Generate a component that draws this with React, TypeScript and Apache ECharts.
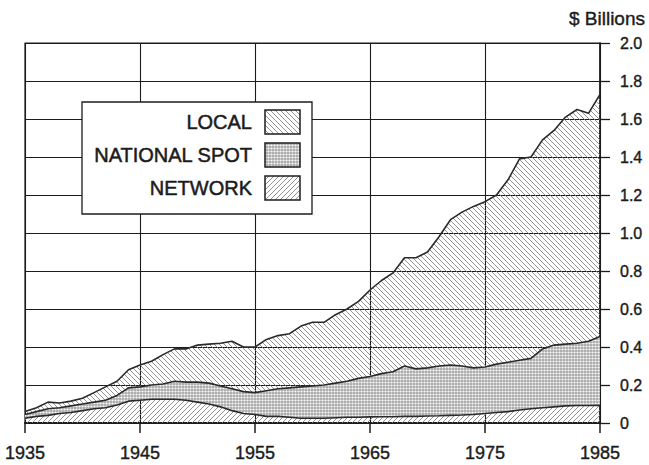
import { useEffect, useRef } from "react";
import * as echarts from "echarts";

const years = [
  1935, 1936, 1937, 1938, 1939, 1940, 1941, 1942, 1943, 1944,
  1945, 1946, 1947, 1948, 1949, 1950, 1951, 1952, 1953, 1954,
  1955, 1956, 1957, 1958, 1959, 1960, 1961, 1962, 1963, 1964,
  1965, 1966, 1967, 1968, 1969, 1970, 1971, 1972, 1973, 1974,
  1975, 1976, 1977, 1978, 1979, 1980, 1981, 1982, 1983, 1984, 1985,
];

const network = [
  0.025, 0.035, 0.04, 0.05, 0.055, 0.065, 0.075, 0.08, 0.095, 0.115,
  0.12, 0.125, 0.125, 0.125, 0.12, 0.11, 0.1, 0.085, 0.065, 0.05,
  0.045, 0.035, 0.035, 0.03, 0.025, 0.025, 0.025, 0.028, 0.03, 0.03,
  0.032, 0.033, 0.033, 0.035, 0.035, 0.037, 0.038, 0.04, 0.042, 0.045,
  0.05, 0.055, 0.06, 0.068, 0.075, 0.08, 0.085, 0.09, 0.092, 0.092, 0.093,
];

const nationalSpot = [
  0.02, 0.025, 0.035, 0.03, 0.035, 0.035, 0.035, 0.04, 0.05, 0.07,
  0.07, 0.075, 0.08, 0.095, 0.095, 0.105, 0.11, 0.11, 0.115, 0.115,
  0.115, 0.135, 0.145, 0.155, 0.165, 0.17, 0.175, 0.182, 0.19, 0.205,
  0.213, 0.227, 0.237, 0.265, 0.25, 0.253, 0.262, 0.265, 0.258, 0.245,
  0.245, 0.255, 0.26, 0.262, 0.265, 0.31, 0.325, 0.325, 0.328, 0.338, 0.362,
];

const local = [
  0.015, 0.02, 0.035, 0.025, 0.025, 0.03, 0.05, 0.07, 0.075, 0.095,
  0.115, 0.125, 0.155, 0.17, 0.175, 0.195, 0.205, 0.225, 0.25, 0.235,
  0.24, 0.27, 0.28, 0.285, 0.32, 0.335, 0.33, 0.36, 0.38, 0.405,
  0.455, 0.49, 0.52, 0.57, 0.585, 0.61, 0.68, 0.765, 0.81, 0.85,
  0.87, 0.89, 0.96, 1.06, 1.06, 1.1, 1.13, 1.195, 1.23, 1.2, 1.275,
];

const seriesNames = ["NETWORK", "NATIONAL SPOT", "LOCAL"];
const legendOrder = ["LOCAL", "NATIONAL SPOT", "NETWORK"];
const yUnit = "$ Billions";

const FONT = "'Liberation Sans', Arial, Helvetica, sans-serif";
const INK = "#1c1c1c";

function tile(w: number, h: number, inner: string) {
  const svg = `<svg xmlns="http://www.w3.org/2000/svg" width="${w}" height="${h}">${inner}</svg>`;
  return "data:image/svg+xml;charset=utf-8," + encodeURIComponent(svg);
}

const patterns: Record<string, any> = {
  LOCAL: {
    image: tile(5, 5, `<path d="M-1,-1L6,6M-1,4L1,6M4,-1L6,1" stroke="#808080" stroke-width="0.85" fill="none"/>`),
    repeat: "repeat",
    imageWidth: 5,
    imageHeight: 5,
  },
  "NATIONAL SPOT": {
    image: tile(3, 3, `<rect width="3" height="3" fill="#a8a8a8"/><circle cx="1.5" cy="1.5" r="1.1" fill="#fafafa"/>`),
    repeat: "repeat",
    imageWidth: 3,
    imageHeight: 3,
  },
  NETWORK: {
    image: tile(5, 5, `<path d="M-1,6L6,-1M-1,1L1,-1M4,6L6,4" stroke="#808080" stroke-width="0.85" fill="none"/>`),
    repeat: "repeat",
    imageWidth: 5,
    imageHeight: 5,
  },
};

const everyTen = (index: number) => index % 10 === 0;

export default function App() {
  const ref = useRef<HTMLDivElement>(null);

  useEffect(() => {
    if (!ref.current) return;
    const chart = echarts.init(ref.current, undefined, { renderer: "svg" });
    const values: Record<string, number[]> = {
      NETWORK: network,
      "NATIONAL SPOT": nationalSpot,
      LOCAL: local,
    };

    const legendGraphics: any[] = [
      {
        type: "rect",
        shape: { x: 82, y: 102, width: 230, height: 112 },
        style: { fill: "#fff", stroke: INK, lineWidth: 1.3 },
        z: 100,
      },
    ];
    legendOrder.forEach((name, i) => {
      const cy = 122 + i * 33;
      legendGraphics.push({
        type: "text",
        x: 252,
        y: cy,
        style: {
          text: name,
          fill: INK,
          stroke: INK,
          lineWidth: 0.5,
          font: `20px ${FONT}`,
          align: "right",
          verticalAlign: "middle",
        },
        z: 101,
      });
      legendGraphics.push({
        type: "rect",
        shape: { x: 265, y: cy - 12, width: 35, height: 24 },
        style: { fill: patterns[name], stroke: INK, lineWidth: 1.5 },
        z: 101,
      });
    });
    legendGraphics.push({
      type: "text",
      x: 645,
      y: 18,
      style: {
        text: yUnit,
        fill: INK,
        stroke: INK,
        lineWidth: 0.4,
        font: `19px ${FONT}`,
        align: "right",
        verticalAlign: "middle",
      },
      z: 101,
    });

    chart.setOption({
      animation: false,
      backgroundColor: "#fff",
      grid: {
        left: 25,
        right: 49,
        top: 43,
        bottom: 42,
        show: true,
        borderColor: INK,
        borderWidth: 1.2,
        backgroundColor: "transparent",
      },
      xAxis: {
        type: "category",
        boundaryGap: false,
        data: years.map(String),
        axisLine: { show: true, onZero: false, lineStyle: { color: INK, width: 2 } },
        axisTick: { show: true, length: 10, interval: everyTen, lineStyle: { color: INK, width: 1.5 } },
        splitLine: { show: true, interval: everyTen, lineStyle: { color: INK, width: 1.1 } },
        axisLabel: {
          color: INK,
          fontFamily: FONT,
          fontSize: 18,
          margin: 21,
          interval: everyTen,
          textBorderColor: INK,
          textBorderWidth: 0.4,
        },
      },
      yAxis: {
        type: "value",
        position: "right",
        min: 0,
        max: 2,
        interval: 0.2,
        axisLine: { show: true, lineStyle: { color: INK, width: 1.5 } },
        axisTick: { show: true, length: 10, lineStyle: { color: INK, width: 1.3 } },
        splitLine: { show: true, lineStyle: { color: INK, width: 1.1 } },
        axisLabel: {
          color: INK,
          fontFamily: FONT,
          fontSize: 16,
          margin: 20,
          textBorderColor: INK,
          textBorderWidth: 0.4,
          formatter: (v: number) => (v === 0 ? "0" : v.toFixed(1)),
        },
      },
      series: seriesNames.map((name) => ({
        name,
        type: "line",
        stack: "total",
        symbol: "none",
        smooth: false,
        data: values[name],
        lineStyle: { color: "#2a2a2a", width: 1.6 },
        areaStyle: { color: patterns[name], opacity: 1 },
        z: 2,
      })),
      graphic: legendGraphics,
    });

    return () => chart.dispose();
  }, []);

  return <div ref={ref} style={{ width: 649, height: 465, position: "absolute", left: 0, top: 0 }} />;
}
